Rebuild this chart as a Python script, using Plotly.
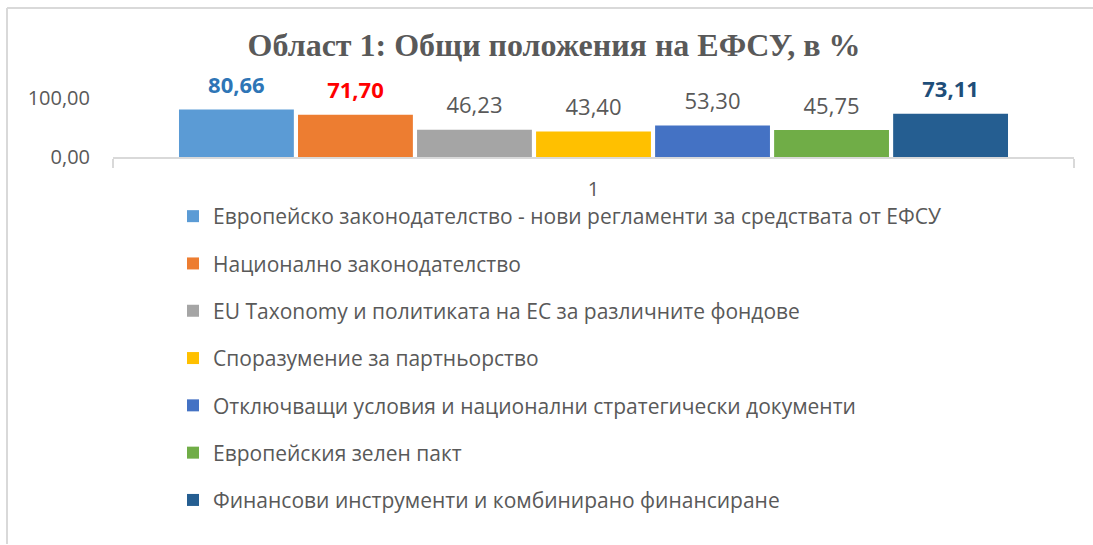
import plotly.graph_objects as go

categories = ["1"]
series_names = [
    "Европейско законодателство - нови регламенти за средствата от ЕФСУ",
    "Национално законодателство",
    "EU Taxonomy и политиката на ЕС за различните фондове",
    "Споразумение за партньорство",
    "Отключващи условия и национални стратегически документи",
    "Европейския зелен пакт",
    "Финансови инструменти и комбинирано финансиране",
]
series_values = [80.66, 71.70, 46.23, 43.40, 53.30, 45.75, 73.11]
bar_colors = ["#5B9BD5", "#ED7D31", "#A5A5A5", "#FFC000", "#4472C4", "#70AD47", "#255E91"]
label_colors = ["#2E75B6", "#FF0000", "#595959", "#595959", "#595959", "#595959", "#1F4E79"]
label_bold = [True, True, False, False, False, False, True]
y_ticks = [0, 100]

W, H = 1093, 545
L, R, T, B = 113, 19, 98, 20
PH = H - T - B          # plot-area height in px
PW = W - L - R
AX_BOTTOM = 157          # pixel row of the value axis zero line
dom0 = 1 - (AX_BOTTOM - T) / PH


def py(pix):
    return (H - B - pix) / PH


def px(pix):
    return (pix - L) / PW


fig = go.Figure()
for i, (name, val) in enumerate(zip(series_names, series_values)):
    fig.add_trace(go.Bar(
        x=categories, y=[val], name=name,
        marker=dict(color=bar_colors[i], line=dict(width=0)),
        legendgroup=f"g{i}", hoverinfo="name+y",
    ))

for i, (name, val) in enumerate(zip(series_names, series_values)):
    txt = f"{val:.2f}".replace(".", ",")
    if label_bold[i]:
        txt = f"<b>{txt}</b>"
    fig.add_trace(go.Scatter(
        x=categories, y=[val], mode="markers+text", text=[txt],
        textposition="top center",
        textfont=dict(family="Open Sans", size=22, color=label_colors[i]),
        marker=dict(size=16, opacity=0),
        showlegend=False, cliponaxis=False, hoverinfo="skip",
    ))

fig.update_layout(
    width=W, height=H,
    margin=dict(l=L, r=R, t=T, b=B, autoexpand=False),
    paper_bgcolor="white", plot_bgcolor="white",
    barmode="group", bargap=0.133, bargroupgap=0.035,
    scattermode="group", scattergap=0.133,
    separators=",.",
    title=dict(
        text="<b>Област 1: Общи положения на ЕФСУ, в %</b>",
        font=dict(family="Liberation Serif", size=32, color="#595959"),
        x=554 / W, xanchor="center", xref="container",
        y=1 - 45 / H, yanchor="middle", yref="container",
    ),
    yaxis=dict(
        domain=[dom0, 1],
        range=[0, 100], tickvals=y_ticks, tickformat=".2f",
        showgrid=True, gridcolor="#D9D9D9", gridwidth=2,
        zeroline=False, showline=False, automargin=False,
        tickfont=dict(family="Open Sans", size=20, color="#595959"),
        ticks="", ticklabelstandoff=22,
    ),
    xaxis=dict(
        showline=True, linecolor="#D9D9D9", linewidth=2, automargin=False,
        ticks="outside", tickson="boundaries", ticklen=9, tickcolor="#D9D9D9", tickwidth=2,
        tickfont=dict(family="Open Sans", size=20, color="#595959"),
        ticklabelstandoff=13,
    ),
    showlegend=True,
    legend=dict(
        orientation="v", traceorder="grouped", tracegroupgap=17,
        x=px(173), xanchor="left",
        y=py(196), yanchor="top",
        font=dict(family="Open Sans", size=21, color="#595959"),
        bgcolor="rgba(0,0,0,0)", itemclick=False,
    ),
    shapes=[
        dict(type="line", xref="paper", yref="paper",
             x0=px(7), x1=px(W + 20), y0=py(8), y1=py(8),
             line=dict(color="#D9D9D9", width=2), layer="above"),
        dict(type="line", xref="paper", yref="paper",
             x0=px(7), x1=px(7), y0=py(8), y1=py(H - 1),
             line=dict(color="#D9D9D9", width=2), layer="above"),
    ],
)

fig.write_html(
    "out.html",
    config={"displayModeBar": False},
    post_script="document.body.style.margin='0';document.body.style.overflow='hidden';",
)
